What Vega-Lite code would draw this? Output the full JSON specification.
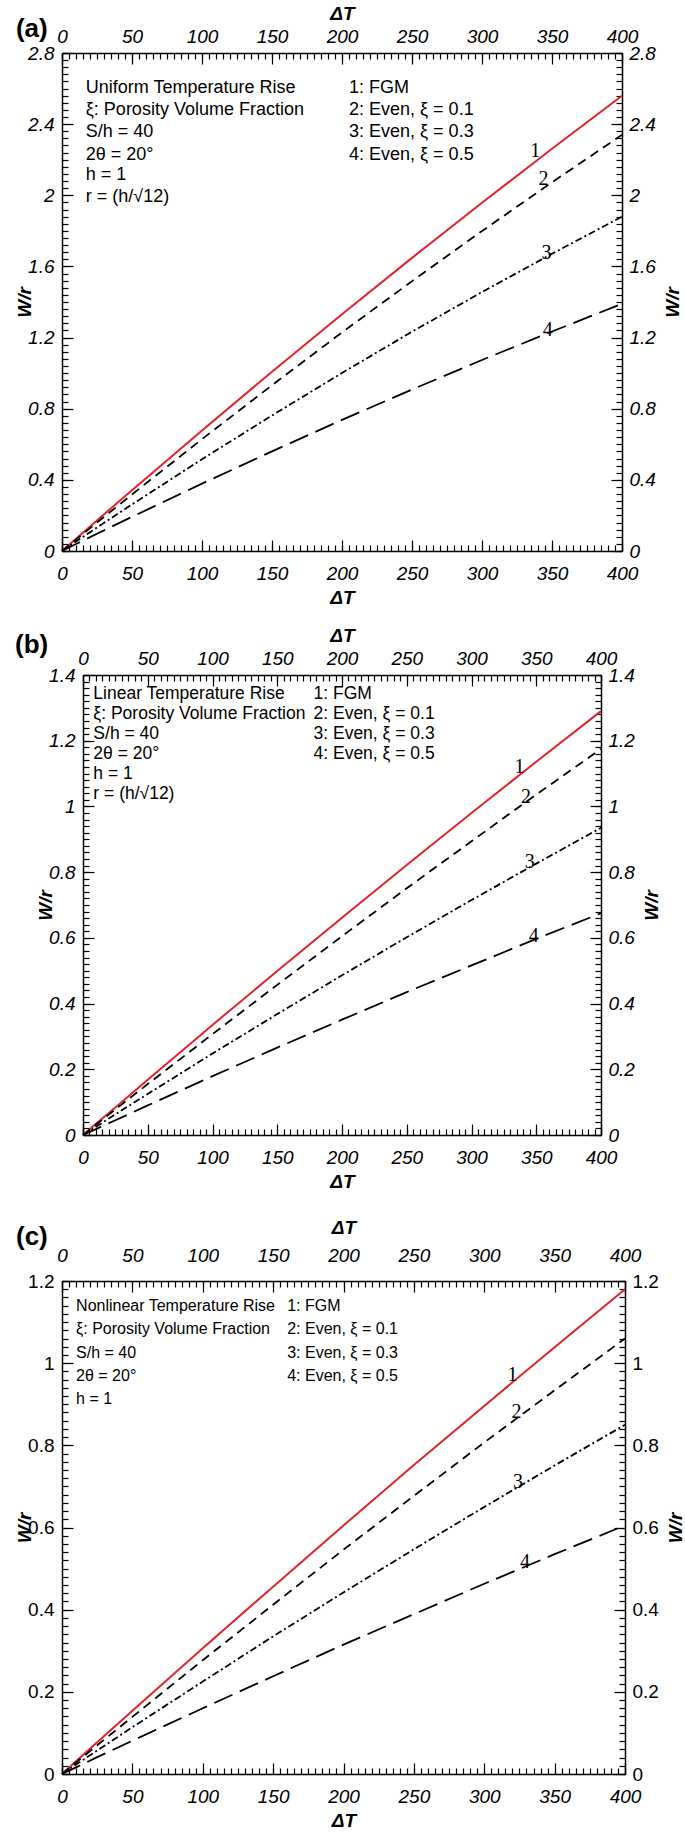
{
"$schema":"https://vega.github.io/schema/vega-lite/v6.json",
"padding":{"left":0,"top":4,"right":0,"bottom":0},
"config":{"view":{"stroke":null},
"axis":{"labelFont":"Liberation Sans","labelFontSize":19,"labelFontStyle":"italic","labelColor":"#000","titleFont":"Liberation Sans","titleFontSize":19,"titleFontWeight":"bold","titleFontStyle":"italic","titleColor":"#000","tickColor":"#000","tickWidth":1.2,"domainColor":"#000","domainWidth":1.5,"grid":false,"labelFlush":false,"labelOverlap":false,"labelBound":false},
"text":{"font":"Liberation Sans","color":"#000"}},
"datasets":{
"pa":[
{"T":0,"W":0,"s":"1"},{"T":10,"W":0.069,"s":"1"},{"T":25,"W":0.172,"s":"1"},{"T":50,"W":0.342,"s":"1"},{"T":100,"W":0.678,"s":"1"},{"T":150,"W":1.008,"s":"1"},{"T":200,"W":1.331,"s":"1"},{"T":250,"W":1.648,"s":"1"},{"T":300,"W":1.958,"s":"1"},{"T":350,"W":2.262,"s":"1"},{"T":400,"W":2.56,"s":"1"},
{"T":0,"W":0,"s":"2"},{"T":10,"W":0.064,"s":"2"},{"T":25,"W":0.160,"s":"2"},{"T":50,"W":0.318,"s":"2"},{"T":100,"W":0.629,"s":"2"},{"T":150,"W":0.932,"s":"2"},{"T":200,"W":1.229,"s":"2"},{"T":250,"W":1.517,"s":"2"},{"T":300,"W":1.799,"s":"2"},{"T":350,"W":2.073,"s":"2"},{"T":400,"W":2.34,"s":"2"},
{"T":0,"W":0,"s":"3"},{"T":10,"W":0.053,"s":"3"},{"T":25,"W":0.132,"s":"3"},{"T":50,"W":0.262,"s":"3"},{"T":100,"W":0.516,"s":"3"},{"T":150,"W":0.762,"s":"3"},{"T":200,"W":1.001,"s":"3"},{"T":250,"W":1.233,"s":"3"},{"T":300,"W":1.456,"s":"3"},{"T":350,"W":1.671,"s":"3"},{"T":400,"W":1.88,"s":"3"},
{"T":0,"W":0,"s":"4"},{"T":10,"W":0.039,"s":"4"},{"T":25,"W":0.097,"s":"4"},{"T":50,"W":0.192,"s":"4"},{"T":100,"W":0.379,"s":"4"},{"T":150,"W":0.560,"s":"4"},{"T":200,"W":0.737,"s":"4"},{"T":250,"W":0.908,"s":"4"},{"T":300,"W":1.074,"s":"4"},{"T":350,"W":1.234,"s":"4"},{"T":400,"W":1.39,"s":"4"}
],
"pb":[
{"T":0,"W":0,"s":"1"},{"T":10,"W":0.034,"s":"1"},{"T":25,"W":0.084,"s":"1"},{"T":50,"W":0.168,"s":"1"},{"T":100,"W":0.335,"s":"1"},{"T":150,"W":0.499,"s":"1"},{"T":200,"W":0.661,"s":"1"},{"T":250,"W":0.822,"s":"1"},{"T":300,"W":0.980,"s":"1"},{"T":350,"W":1.136,"s":"1"},{"T":400,"W":1.29,"s":"1"},
{"T":0,"W":0,"s":"2"},{"T":10,"W":0.031,"s":"2"},{"T":25,"W":0.078,"s":"2"},{"T":50,"W":0.155,"s":"2"},{"T":100,"W":0.307,"s":"2"},{"T":150,"W":0.457,"s":"2"},{"T":200,"W":0.605,"s":"2"},{"T":250,"W":0.751,"s":"2"},{"T":300,"W":0.894,"s":"2"},{"T":350,"W":1.036,"s":"2"},{"T":400,"W":1.175,"s":"2"},
{"T":0,"W":0,"s":"3"},{"T":10,"W":0.025,"s":"3"},{"T":25,"W":0.063,"s":"3"},{"T":50,"W":0.125,"s":"3"},{"T":100,"W":0.248,"s":"3"},{"T":150,"W":0.368,"s":"3"},{"T":200,"W":0.486,"s":"3"},{"T":250,"W":0.602,"s":"3"},{"T":300,"W":0.715,"s":"3"},{"T":350,"W":0.826,"s":"3"},{"T":400,"W":0.935,"s":"3"},
{"T":0,"W":0,"s":"4"},{"T":10,"W":0.018,"s":"4"},{"T":25,"W":0.045,"s":"4"},{"T":50,"W":0.090,"s":"4"},{"T":100,"W":0.179,"s":"4"},{"T":150,"W":0.266,"s":"4"},{"T":200,"W":0.351,"s":"4"},{"T":250,"W":0.435,"s":"4"},{"T":300,"W":0.516,"s":"4"},{"T":350,"W":0.597,"s":"4"},{"T":400,"W":0.675,"s":"4"}
],
"pc":[
{"T":0,"W":0,"s":"1"},{"T":10,"W":0.031,"s":"1"},{"T":25,"W":0.077,"s":"1"},{"T":50,"W":0.154,"s":"1"},{"T":100,"W":0.306,"s":"1"},{"T":150,"W":0.456,"s":"1"},{"T":200,"W":0.605,"s":"1"},{"T":250,"W":0.752,"s":"1"},{"T":300,"W":0.896,"s":"1"},{"T":350,"W":1.039,"s":"1"},{"T":400,"W":1.18,"s":"1"},
{"T":0,"W":0,"s":"2"},{"T":10,"W":0.028,"s":"2"},{"T":25,"W":0.070,"s":"2"},{"T":50,"W":0.139,"s":"2"},{"T":100,"W":0.277,"s":"2"},{"T":150,"W":0.412,"s":"2"},{"T":200,"W":0.546,"s":"2"},{"T":250,"W":0.677,"s":"2"},{"T":300,"W":0.807,"s":"2"},{"T":350,"W":0.934,"s":"2"},{"T":400,"W":1.06,"s":"2"},
{"T":0,"W":0,"s":"3"},{"T":10,"W":0.023,"s":"3"},{"T":25,"W":0.057,"s":"3"},{"T":50,"W":0.114,"s":"3"},{"T":100,"W":0.225,"s":"3"},{"T":150,"W":0.335,"s":"3"},{"T":200,"W":0.442,"s":"3"},{"T":250,"W":0.547,"s":"3"},{"T":300,"W":0.650,"s":"3"},{"T":350,"W":0.751,"s":"3"},{"T":400,"W":0.85,"s":"3"},
{"T":0,"W":0,"s":"4"},{"T":10,"W":0.016,"s":"4"},{"T":25,"W":0.041,"s":"4"},{"T":50,"W":0.081,"s":"4"},{"T":100,"W":0.160,"s":"4"},{"T":150,"W":0.238,"s":"4"},{"T":200,"W":0.315,"s":"4"},{"T":250,"W":0.389,"s":"4"},{"T":300,"W":0.463,"s":"4"},{"T":350,"W":0.535,"s":"4"},{"T":400,"W":0.605,"s":"4"}
]
},
"spacing":27,
"vconcat":[
{"spacing":19,"vconcat":[
{"spacing":0,"hconcat":[
{"width":15,"height":1,"data":{"values":[{}]},"mark":{"type":"text","text":""}},
{"width":560,"height":498,"data":{"name":"pa"},
"resolve":{"axis":{"x":"independent","y":"independent"}},
"layer":[
{"transform":[{"filter":"datum.s==='1'"}],"mark":{"type":"line","color":"#e3232a","strokeWidth":2},
"encoding":{"x":{"field":"T","type":"quantitative","scale":{"domain":[0,400],"nice":false},"axis":{"orient":"bottom","values":[0,50,100,150,200,250,300,350,400],"title":"ΔT","tickSize":-11,"labelPadding":24,"titlePadding":5}},
"y":{"field":"W","type":"quantitative","scale":{"domain":[0,2.8],"nice":false},"axis":{"orient":"left","values":[0,0.4,0.8,1.2,1.6,2,2.4,2.8],"format":"~g","title":"W/r","tickSize":-11,"labelPadding":19,"titlePadding":-7}}}},
{"transform":[{"filter":"datum.s==='2'"}],"mark":{"type":"line","color":"#000","strokeWidth":1.8,"strokeDash":[9,6]},
"encoding":{"x":{"field":"T","type":"quantitative","scale":{"domain":[0,400],"nice":false},"axis":{"orient":"top","values":[0,50,100,150,200,250,300,350,400],"title":"ΔT","tickSize":-11,"labelPadding":18,"titlePadding":4}},
"y":{"field":"W","type":"quantitative","scale":{"domain":[0,2.8],"nice":false},"axis":{"orient":"right","values":[0,0.4,0.8,1.2,1.6,2,2.4,2.8],"format":"~g","title":"W/r","titleAngle":-90,"titleBaseline":"top","tickSize":-11,"labelPadding":18,"titlePadding":8}}}},
{"transform":[{"filter":"datum.s==='3'"}],"mark":{"type":"line","color":"#000","strokeWidth":1.8,"strokeDash":[7,3,2,3]},
"encoding":{"x":{"field":"T","type":"quantitative","scale":{"domain":[0,400],"nice":false},"axis":{"orient":"bottom","tickCount":80,"labels":false,"domain":false,"title":null,"tickSize":-6}},
"y":{"field":"W","type":"quantitative","scale":{"domain":[0,2.8],"nice":false},"axis":{"orient":"left","values":[0,0.04,0.08,0.12,0.16,0.2,0.24,0.28,0.32,0.36,0.4,0.44,0.48,0.52,0.56,0.6,0.64,0.68,0.72,0.76,0.8,0.84,0.88,0.92,0.96,1,1.04,1.08,1.12,1.16,1.2,1.24,1.28,1.32,1.36,1.4,1.44,1.48,1.52,1.56,1.6,1.64,1.68,1.72,1.76,1.8,1.84,1.88,1.92,1.96,2,2.04,2.08,2.12,2.16,2.2,2.24,2.28,2.32,2.36,2.4,2.44,2.48,2.52,2.56,2.6,2.64,2.68,2.72,2.76,2.8],"labels":false,"domain":false,"title":null,"tickSize":-6}}}},
{"transform":[{"filter":"datum.s==='4'"}],"mark":{"type":"line","color":"#000","strokeWidth":1.8,"strokeDash":[20,8]},
"encoding":{"x":{"field":"T","type":"quantitative","scale":{"domain":[0,400],"nice":false},"axis":{"orient":"top","tickCount":80,"labels":false,"domain":false,"title":null,"tickSize":-6}},
"y":{"field":"W","type":"quantitative","scale":{"domain":[0,2.8],"nice":false},"axis":{"orient":"right","values":[0,0.04,0.08,0.12,0.16,0.2,0.24,0.28,0.32,0.36,0.4,0.44,0.48,0.52,0.56,0.6,0.64,0.68,0.72,0.76,0.8,0.84,0.88,0.92,0.96,1,1.04,1.08,1.12,1.16,1.2,1.24,1.28,1.32,1.36,1.4,1.44,1.48,1.52,1.56,1.6,1.64,1.68,1.72,1.76,1.8,1.84,1.88,1.92,1.96,2,2.04,2.08,2.12,2.16,2.2,2.24,2.28,2.32,2.36,2.4,2.44,2.48,2.52,2.56,2.6,2.64,2.68,2.72,2.76,2.8],"labels":false,"domain":false,"title":null,"tickSize":-6}}}},
{"data":{"values":[{"T":338,"W":2.25,"t":"1"},{"T":344,"W":2.09,"t":"2"},{"T":346,"W":1.675,"t":"3"},{"T":347,"W":1.24,"t":"4"}]},
"mark":{"type":"text","font":"Liberation Serif","fontSize":20},
"encoding":{"x":{"field":"T","type":"quantitative","scale":{"domain":[0,400],"nice":false},"axis":null},"y":{"field":"W","type":"quantitative","scale":{"domain":[0,2.8],"nice":false},"axis":null},"text":{"field":"t"}}},
{"data":{"values":[{"T":17,"W":2.603,"t":"Uniform Temperature Rise"},{"T":17,"W":2.479,"t":"ξ: Porosity Volume Fraction"},{"T":17,"W":2.356,"t":"S/h = 40"},{"T":17,"W":2.226,"t":"2θ = 20°"},{"T":17,"W":2.114,"t":"h = 1"},{"T":17,"W":1.99,"t":"r = (h/√12)"},{"T":205,"W":2.603,"t":"1: FGM"},{"T":205,"W":2.479,"t":"2: Even, ξ = 0.1"},{"T":205,"W":2.356,"t":"3: Even, ξ = 0.3"},{"T":205,"W":2.226,"t":"4: Even, ξ = 0.5"}]},
"mark":{"type":"text","align":"left","baseline":"middle","fontSize":18},
"encoding":{"x":{"field":"T","type":"quantitative","scale":{"domain":[0,400],"nice":false},"axis":null},"y":{"field":"W","type":"quantitative","scale":{"domain":[0,2.8],"nice":false},"axis":null},"text":{"field":"t"}}},
{"data":{"values":[{"T":-32.9,"W":2.935,"t":"(a)"}]},
"mark":{"type":"text","align":"left","baseline":"middle","fontSize":26,"fontWeight":"bold"},
"encoding":{"x":{"field":"T","type":"quantitative","scale":{"domain":[0,400],"nice":false},"axis":null},"y":{"field":"W","type":"quantitative","scale":{"domain":[0,2.8],"nice":false},"axis":null},"text":{"field":"t"}}}
]}
]},
{"spacing":0,"hconcat":[
{"width":15,"height":1,"data":{"values":[{}]},"mark":{"type":"text","text":""}},
{"width":518,"height":460,"data":{"name":"pb"},
"resolve":{"axis":{"x":"independent","y":"independent"}},
"layer":[
{"transform":[{"filter":"datum.s==='1'"}],"mark":{"type":"line","color":"#e3232a","strokeWidth":2},
"encoding":{"x":{"field":"T","type":"quantitative","scale":{"domain":[0,400],"nice":false},"axis":{"orient":"bottom","values":[0,50,100,150,200,250,300,350,400],"title":"ΔT","tickSize":-11,"labelPadding":24,"titlePadding":5}},
"y":{"field":"W","type":"quantitative","scale":{"domain":[0,1.4],"nice":false},"axis":{"orient":"left","values":[0,0.2,0.4,0.6,0.8,1,1.2,1.4],"format":"~g","title":"W/r","tickSize":-11,"labelPadding":19,"titlePadding":-7}}}},
{"transform":[{"filter":"datum.s==='2'"}],"mark":{"type":"line","color":"#000","strokeWidth":1.8,"strokeDash":[9,6]},
"encoding":{"x":{"field":"T","type":"quantitative","scale":{"domain":[0,400],"nice":false},"axis":{"orient":"top","values":[0,50,100,150,200,250,300,350,400],"title":"ΔT","tickSize":-11,"labelPadding":18,"titlePadding":4}},
"y":{"field":"W","type":"quantitative","scale":{"domain":[0,1.4],"nice":false},"axis":{"orient":"right","values":[0,0.2,0.4,0.6,0.8,1,1.2,1.4],"format":"~g","title":"W/r","titleAngle":-90,"titleBaseline":"top","tickSize":-11,"labelPadding":18,"titlePadding":8}}}},
{"transform":[{"filter":"datum.s==='3'"}],"mark":{"type":"line","color":"#000","strokeWidth":1.8,"strokeDash":[7,3,2,3]},
"encoding":{"x":{"field":"T","type":"quantitative","scale":{"domain":[0,400],"nice":false},"axis":{"orient":"bottom","tickCount":80,"labels":false,"domain":false,"title":null,"tickSize":-6}},
"y":{"field":"W","type":"quantitative","scale":{"domain":[0,1.4],"nice":false},"axis":{"orient":"left","tickCount":70,"labels":false,"domain":false,"title":null,"tickSize":-6}}}},
{"transform":[{"filter":"datum.s==='4'"}],"mark":{"type":"line","color":"#000","strokeWidth":1.8,"strokeDash":[20,8]},
"encoding":{"x":{"field":"T","type":"quantitative","scale":{"domain":[0,400],"nice":false},"axis":{"orient":"top","tickCount":80,"labels":false,"domain":false,"title":null,"tickSize":-6}},
"y":{"field":"W","type":"quantitative","scale":{"domain":[0,1.4],"nice":false},"axis":{"orient":"right","tickCount":70,"labels":false,"domain":false,"title":null,"tickSize":-6}}}},
{"data":{"values":[{"T":337,"W":1.12,"t":"1"},{"T":342,"W":1.03,"t":"2"},{"T":345,"W":0.83,"t":"3"},{"T":348,"W":0.605,"t":"4"}]},
"mark":{"type":"text","font":"Liberation Serif","fontSize":20},
"encoding":{"x":{"field":"T","type":"quantitative","scale":{"domain":[0,400],"nice":false},"axis":null},"y":{"field":"W","type":"quantitative","scale":{"domain":[0,1.4],"nice":false},"axis":null},"text":{"field":"t"}}},
{"data":{"values":[{"T":8,"W":1.342,"t":"Linear Temperature Rise"},{"T":8,"W":1.281,"t":"ξ: Porosity Volume Fraction"},{"T":8,"W":1.22,"t":"S/h = 40"},{"T":8,"W":1.16,"t":"2θ = 20°"},{"T":8,"W":1.099,"t":"h = 1"},{"T":8,"W":1.038,"t":"r = (h/√12)"},{"T":178,"W":1.342,"t":"1: FGM"},{"T":178,"W":1.281,"t":"2: Even, ξ = 0.1"},{"T":178,"W":1.22,"t":"3: Even, ξ = 0.3"},{"T":178,"W":1.16,"t":"4: Even, ξ = 0.5"}]},
"mark":{"type":"text","align":"left","baseline":"middle","fontSize":17.5},
"encoding":{"x":{"field":"T","type":"quantitative","scale":{"domain":[0,400],"nice":false},"axis":null},"y":{"field":"W","type":"quantitative","scale":{"domain":[0,1.4],"nice":false},"axis":null},"text":{"field":"t"}}},
{"data":{"values":[{"T":-52.5,"W":1.491,"t":"(b)"}]},
"mark":{"type":"text","align":"left","baseline":"middle","fontSize":26,"fontWeight":"bold"},
"encoding":{"x":{"field":"T","type":"quantitative","scale":{"domain":[0,400],"nice":false},"axis":null},"y":{"field":"W","type":"quantitative","scale":{"domain":[0,1.4],"nice":false},"axis":null},"text":{"field":"t"}}}
]}
]}
]},
{"spacing":0,"hconcat":[
{"width":15,"height":1,"data":{"values":[{}]},"mark":{"type":"text","text":""}},
{"width":563,"height":493,"data":{"name":"pc"},
"resolve":{"axis":{"x":"independent","y":"independent"}},
"layer":[
{"transform":[{"filter":"datum.s==='1'"}],"mark":{"type":"line","color":"#e3232a","strokeWidth":2},
"encoding":{"x":{"field":"T","type":"quantitative","scale":{"domain":[0,400],"nice":false},"axis":{"orient":"bottom","values":[0,50,100,150,200,250,300,350,400],"title":"ΔT","tickSize":-11,"labelPadding":24,"titlePadding":5}},
"y":{"field":"W","type":"quantitative","scale":{"domain":[0,1.2],"nice":false},"axis":{"orient":"left","values":[0,0.2,0.4,0.6,0.8,1,1.2],"format":"~g","labelFontStyle":"normal","title":"W/r","tickSize":-11,"labelPadding":19,"titlePadding":-7}}}},
{"transform":[{"filter":"datum.s==='2'"}],"mark":{"type":"line","color":"#000","strokeWidth":1.8,"strokeDash":[9,6]},
"encoding":{"x":{"field":"T","type":"quantitative","scale":{"domain":[0,400],"nice":false},"axis":{"orient":"top","values":[0,50,100,150,200,250,300,350,400],"title":"ΔT","tickSize":-11,"labelPadding":27,"titlePadding":9}},
"y":{"field":"W","type":"quantitative","scale":{"domain":[0,1.2],"nice":false},"axis":{"orient":"right","values":[0,0.2,0.4,0.6,0.8,1,1.2],"format":"~g","labelFontStyle":"normal","title":"W/r","titleAngle":-90,"titleBaseline":"top","tickSize":-11,"labelPadding":18,"titlePadding":8}}}},
{"transform":[{"filter":"datum.s==='3'"}],"mark":{"type":"line","color":"#000","strokeWidth":1.8,"strokeDash":[7,3,2,3]},
"encoding":{"x":{"field":"T","type":"quantitative","scale":{"domain":[0,400],"nice":false},"axis":{"orient":"bottom","tickCount":80,"labels":false,"domain":false,"title":null,"tickSize":-6}},
"y":{"field":"W","type":"quantitative","scale":{"domain":[0,1.2],"nice":false},"axis":{"orient":"left","tickCount":60,"labels":false,"domain":false,"title":null,"tickSize":-6}}}},
{"transform":[{"filter":"datum.s==='4'"}],"mark":{"type":"line","color":"#000","strokeWidth":1.8,"strokeDash":[20,8]},
"encoding":{"x":{"field":"T","type":"quantitative","scale":{"domain":[0,400],"nice":false},"axis":{"orient":"top","tickCount":80,"labels":false,"domain":false,"title":null,"tickSize":-6}},
"y":{"field":"W","type":"quantitative","scale":{"domain":[0,1.2],"nice":false},"axis":{"orient":"right","tickCount":60,"labels":false,"domain":false,"title":null,"tickSize":-6}}}},
{"data":{"values":[{"T":320,"W":0.97,"t":"1"},{"T":323,"W":0.88,"t":"2"},{"T":324,"W":0.71,"t":"3"},{"T":329,"W":0.515,"t":"4"}]},
"mark":{"type":"text","font":"Liberation Serif","fontSize":20},
"encoding":{"x":{"field":"T","type":"quantitative","scale":{"domain":[0,400],"nice":false},"axis":null},"y":{"field":"W","type":"quantitative","scale":{"domain":[0,1.2],"nice":false},"axis":null},"text":{"field":"t"}}},
{"data":{"values":[{"T":10,"W":1.139,"t":"Nonlinear Temperature Rise"},{"T":10,"W":1.083,"t":"ξ: Porosity Volume Fraction"},{"T":10,"W":1.025,"t":"S/h = 40"},{"T":10,"W":0.969,"t":"2θ = 20°"},{"T":10,"W":0.913,"t":"h = 1"},{"T":160,"W":1.139,"t":"1: FGM"},{"T":160,"W":1.083,"t":"2: Even, ξ = 0.1"},{"T":160,"W":1.025,"t":"3: Even, ξ = 0.3"},{"T":160,"W":0.969,"t":"4: Even, ξ = 0.5"}]},
"mark":{"type":"text","align":"left","baseline":"middle","fontSize":16},
"encoding":{"x":{"field":"T","type":"quantitative","scale":{"domain":[0,400],"nice":false},"axis":null},"y":{"field":"W","type":"quantitative","scale":{"domain":[0,1.2],"nice":false},"axis":null},"text":{"field":"t"}}},
{"data":{"values":[{"T":-32.7,"W":1.307,"t":"(c)"}]},
"mark":{"type":"text","align":"left","baseline":"middle","fontSize":26,"fontWeight":"bold"},
"encoding":{"x":{"field":"T","type":"quantitative","scale":{"domain":[0,400],"nice":false},"axis":null},"y":{"field":"W","type":"quantitative","scale":{"domain":[0,1.2],"nice":false},"axis":null},"text":{"field":"t"}}}
]}
]}
]
}
